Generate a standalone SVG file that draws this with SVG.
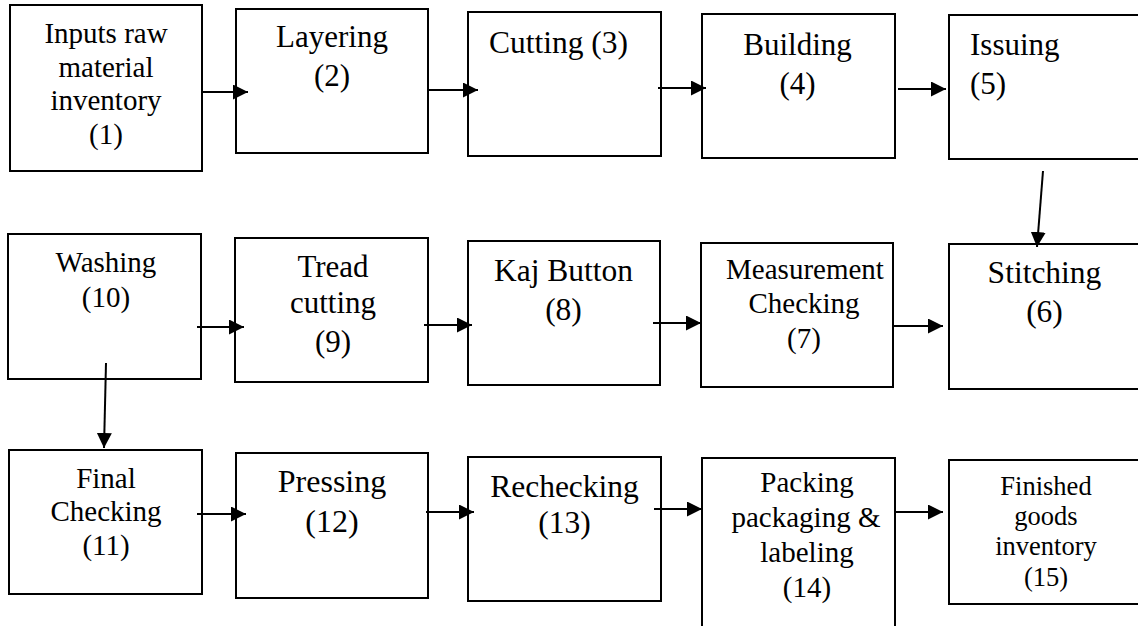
<svg xmlns="http://www.w3.org/2000/svg" width="1138" height="626" viewBox="0 0 1138 626">
<style>
.box{fill:#fff;stroke:#000;stroke-width:2}
.t{font-family:"Liberation Serif","Times New Roman",serif;fill:#000;text-anchor:middle}
.s{text-anchor:start}
.c{fill:none;stroke:#000;stroke-width:2;marker-end:url(#ah)}
</style>
<defs>
<marker id="ah" markerUnits="userSpaceOnUse" markerWidth="15" markerHeight="15" refX="15" refY="7.5" orient="auto">
<path d="M0,0 L15,7.5 L0,15 Z" fill="#000"/>
</marker>
</defs>
<rect width="1138" height="626" fill="#fff"/>
<g id="n1"><rect class="box" x="10" y="5" width="192" height="166"/>
<text class="t" font-size="29"><tspan x="106" y="43">Inputs raw</tspan><tspan x="106" y="77">material</tspan><tspan x="106" y="110">inventory</tspan><tspan x="106" y="144">(1)</tspan></text></g>
<g id="n2"><rect class="box" x="236" y="9" width="192" height="144"/>
<text class="t" font-size="31"><tspan x="332" y="47">Layering</tspan><tspan x="332" y="86">(2)</tspan></text></g>
<g id="n3"><rect class="box" x="468" y="12" width="193" height="144"/>
<text class="t" font-size="31.5" x="558.5" y="53">Cutting (3)</text></g>
<g id="n4"><rect class="box" x="702" y="14" width="193" height="144"/>
<text class="t" font-size="31"><tspan x="797.5" y="55">Building</tspan><tspan x="797.5" y="94">(4)</tspan></text></g>
<g id="n5"><rect class="box" x="949" y="15" width="200" height="144"/>
<text class="t s" font-size="31"><tspan x="970" y="55">Issuing</tspan><tspan x="970" y="94">(5)</tspan></text></g>
<g id="n6"><rect class="box" x="949" y="244" width="200" height="145"/>
<text class="t" font-size="31.5"><tspan x="1044.5" y="283">Stitching</tspan><tspan x="1044.5" y="322">(6)</tspan></text></g>
<g id="n7"><rect class="box" x="701" y="243" width="192" height="144"/>
<text class="t" font-size="29"><tspan x="805" y="279">Measurement</tspan><tspan x="804" y="313">Checking</tspan><tspan x="804" y="348">(7)</tspan></text></g>
<g id="n8"><rect class="box" x="468" y="241" width="192" height="144"/>
<text class="t" font-size="31.5"><tspan x="563.5" y="281">Kaj Button</tspan><tspan x="563.5" y="320">(8)</tspan></text></g>
<g id="n9"><rect class="box" x="235" y="238" width="193" height="144"/>
<text class="t" font-size="31"><tspan x="333" y="277">Tread</tspan><tspan x="333" y="313">cutting</tspan><tspan x="333" y="352">(9)</tspan></text></g>
<g id="n10"><rect class="box" x="8" y="234" width="193" height="145"/>
<text class="t" font-size="29"><tspan x="106" y="272">Washing</tspan><tspan x="106" y="307">(10)</tspan></text></g>
<g id="n11"><rect class="box" x="9" y="450" width="193" height="144"/>
<text class="t" font-size="29"><tspan x="106" y="488">Final</tspan><tspan x="106" y="521">Checking</tspan><tspan x="106" y="555">(11)</tspan></text></g>
<g id="n12"><rect class="box" x="236" y="453" width="192" height="145"/>
<text class="t" font-size="32"><tspan x="332" y="492">Pressing</tspan><tspan x="332" y="532">(12)</tspan></text></g>
<g id="n13"><rect class="box" x="468" y="457" width="193" height="144"/>
<text class="t" font-size="31.5"><tspan x="564.5" y="497">Rechecking</tspan><tspan x="564.5" y="533">(13)</tspan></text></g>
<g id="n14"><rect class="box" x="702" y="458" width="193" height="190"/>
<text class="t" font-size="29"><tspan x="807" y="492">Packing</tspan><tspan x="806" y="527">packaging &amp;</tspan><tspan x="807" y="562">labeling</tspan><tspan x="807" y="597">(14)</tspan></text></g>
<g id="n15"><rect class="box" x="949" y="460" width="200" height="144"/>
<text class="t" font-size="26.5"><tspan x="1046" y="495">Finished</tspan><tspan x="1046" y="525">goods</tspan><tspan x="1046" y="555">inventory</tspan><tspan x="1046" y="586">(15)</tspan></text></g>
<g id="connectors">
<line class="c" x1="202" y1="92" x2="248" y2="92"/>
<line class="c" x1="429" y1="90" x2="478" y2="90"/>
<line class="c" x1="658" y1="88" x2="706" y2="88"/>
<line class="c" x1="898" y1="89" x2="946" y2="89"/>
<line class="c" x1="1043" y1="171" x2="1037" y2="247"/>
<line class="c" x1="197" y1="327" x2="244" y2="327"/>
<line class="c" x1="424" y1="325" x2="472" y2="325"/>
<line class="c" x1="653" y1="323" x2="701" y2="323"/>
<line class="c" x1="894" y1="326" x2="943" y2="326"/>
<line class="c" x1="106" y1="363" x2="104" y2="448"/>
<line class="c" x1="197" y1="514" x2="246" y2="514"/>
<line class="c" x1="426" y1="512" x2="474" y2="512"/>
<line class="c" x1="654" y1="509" x2="702" y2="509"/>
<line class="c" x1="895" y1="512" x2="943" y2="512"/>
</g>
</svg>
